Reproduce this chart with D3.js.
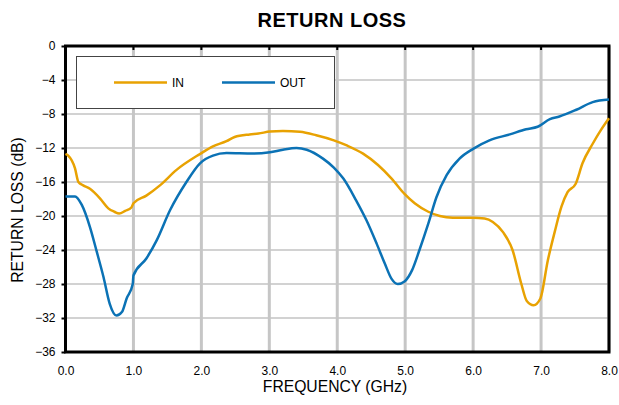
<!DOCTYPE html>
<html>
<head>
<meta charset="utf-8">
<script src="https://cdn.jsdelivr.net/npm/d3@7"></script>
<style>
  body { margin: 0; background: #fff; }
  text { font-family: "Liberation Sans", Arial, sans-serif; }
</style>
</head>
<body>
<div id="chart"></div>
<script>
// frequency (GHz) / return loss (dB)
const inFreq = [0.0, 0.04, 0.14, 0.19, 0.26, 0.36, 0.51, 0.63, 0.72, 0.79, 0.88, 0.97, 1.0, 1.19, 1.39, 1.63, 1.98, 2.17, 2.37, 2.49, 2.71, 2.84, 3.01, 3.2, 3.45, 3.69, 3.95, 4.14, 4.38, 4.6, 4.8, 4.99, 5.14, 5.34, 5.51, 5.7, 6.0, 6.17, 6.29, 6.44, 6.58, 6.71, 6.79, 6.89, 6.99, 7.1, 7.2, 7.3, 7.39, 7.51, 7.61, 7.76, 7.88, 8.0];
const inLoss = [-12.7, -12.9, -14.4, -16.0, -16.4, -16.8, -17.95, -19.1, -19.5, -19.7, -19.4, -19.0, -18.5, -17.6, -16.4, -14.6, -12.7, -11.8, -11.2, -10.7, -10.4, -10.3, -10.07, -10.0, -10.1, -10.5, -11.1, -11.7, -12.66, -14.0, -15.6, -17.4, -18.5, -19.5, -20.0, -20.2, -20.2, -20.3, -20.7, -21.9, -24.0, -28.0, -30.0, -30.5, -29.7, -25.2, -21.9, -18.9, -17.2, -16.2, -13.8, -11.5, -9.9, -8.5];

const outFreq = [0.0, 0.04, 0.14, 0.24, 0.36, 0.46, 0.56, 0.65, 0.75, 0.83, 0.9, 0.99, 1.0, 1.19, 1.34, 1.54, 1.78, 1.98, 2.17, 2.37, 2.76, 3.01, 3.2, 3.4, 3.55, 3.79, 3.95, 4.09, 4.28, 4.43, 4.58, 4.7, 4.8, 4.89, 4.99, 5.1, 5.21, 5.34, 5.46, 5.61, 5.8, 6.0, 6.24, 6.54, 6.78, 6.95, 7.13, 7.27, 7.52, 7.76, 8.0];
const outLoss = [-17.7, -17.7, -17.7, -18.7, -21.3, -24.2, -27.2, -30.3, -31.7, -31.3, -29.7, -28.0, -27.0, -25.0, -22.9, -19.3, -16.0, -13.8, -12.9, -12.6, -12.66, -12.5, -12.2, -12.0, -12.2, -13.25, -14.3, -15.6, -18.2, -20.5, -23.25, -25.6, -27.4, -28.0, -27.7, -26.4, -24.0, -20.9, -17.8, -15.2, -13.25, -12.1, -11.1, -10.4, -9.8, -9.5, -8.6, -8.3, -7.5, -6.6, -6.3];

const xTicks = [0, 1, 2, 3, 4, 5, 6, 7, 8];
const yTicks = [0, -4, -8, -12, -16, -20, -24, -28, -32, -36];

const series = [
  { name: "IN", color: "#E8A202", x: inFreq, y: inLoss },
  { name: "OUT", color: "#0B72B5", x: outFreq, y: outLoss }
];

const W = 619, H = 405;
const margin = { top: 46, right: 10, bottom: 53, left: 65.5 };
const width = W - margin.left - margin.right;
const height = H - margin.top - margin.bottom;

const svg = d3.select("#chart").append("svg")
  .attr("width", W)
  .attr("height", H);

const g = svg.append("g")
  .attr("transform", `translate(${margin.left},${margin.top})`);

const x = d3.scaleLinear().domain([0, 8]).range([0, width]);
const y = d3.scaleLinear().domain([-36, 0]).range([height, 0]);

// grid
g.append("g")
  .selectAll("line")
  .data(yTicks)
  .join("line")
  .attr("x1", 0).attr("x2", width)
  .attr("y1", d => y(d)).attr("y2", d => y(d))
  .attr("stroke", "#d2d2d2")
  .attr("stroke-width", 2);

g.append("g")
  .selectAll("line")
  .data(xTicks)
  .join("line")
  .attr("x1", d => x(d)).attr("x2", d => x(d))
  .attr("y1", 0).attr("y2", height)
  .attr("stroke", "#c6c6c6")
  .attr("stroke-width", 3);

// axes
const yAxis = g.append("g")
  .call(d3.axisLeft(y).tickValues(yTicks).tickFormat(d3.format("d")).tickSize(4).tickPadding(6));
yAxis.select(".domain").remove();
yAxis.selectAll("line").attr("stroke", "#000").attr("stroke-width", 2);
yAxis.selectAll("text").style("font-size", "12px").attr("fill", "#000");

const xAxis = g.append("g")
  .attr("transform", `translate(0,${height})`)
  .call(d3.axisBottom(x).tickValues(xTicks).tickFormat(d3.format(".1f")).tickSize(0).tickPadding(14));
xAxis.select(".domain").remove();
xAxis.selectAll("text").style("font-size", "12px").attr("fill", "#000");

// top ticks
g.append("g")
  .selectAll("line")
  .data(xTicks)
  .join("line")
  .attr("x1", d => x(d)).attr("x2", d => x(d))
  .attr("y1", 0).attr("y2", 4)
  .attr("stroke", "#000")
  .attr("stroke-width", 2);

// frame
g.append("rect")
  .attr("width", width)
  .attr("height", height)
  .attr("fill", "none")
  .attr("stroke", "#000")
  .attr("stroke-width", 3);

// lines
const line = d3.line()
  .x(d => x(d[0]))
  .y(d => y(d[1]))
  .curve(d3.curveMonotoneX);

series.forEach(s => {
  g.append("path")
    .datum(d3.zip(s.x, s.y))
    .attr("fill", "none")
    .attr("stroke", s.color)
    .attr("stroke-width", 2.5)
    .attr("stroke-linejoin", "round")
    .attr("d", line);
});

// legend
const legend = svg.append("g").attr("transform", "translate(76.5,56.5)");
legend.append("rect")
  .attr("width", 258)
  .attr("height", 52)
  .attr("fill", "#fff")
  .attr("stroke", "#444")
  .attr("stroke-width", 1);

series.forEach((s, i) => {
  const lx = 37.5 + i * 108;
  legend.append("line")
    .attr("x1", lx).attr("x2", lx + 53)
    .attr("y1", 26).attr("y2", 26)
    .attr("stroke", s.color)
    .attr("stroke-width", 2.5);
  legend.append("text")
    .attr("x", lx + 58)
    .attr("y", 30.5)
    .style("font-size", "12px")
    .text(s.name);
});

// titles
svg.append("text")
  .attr("x", 332)
  .attr("y", 27)
  .attr("text-anchor", "middle")
  .style("font-size", "20px")
  .style("font-weight", "bold")
  .style("letter-spacing", "0.5px")
  .text("RETURN LOSS");

svg.append("text")
  .attr("x", 335)
  .attr("y", 392)
  .attr("text-anchor", "middle")
  .style("font-size", "15.7px")
  .text("FREQUENCY (GHz)");

svg.append("text")
  .attr("transform", "rotate(-90)")
  .attr("x", -210)
  .attr("y", 23)
  .attr("text-anchor", "middle")
  .style("font-size", "15.7px")
  .text("RETURN LOSS (dB)");
</script>
</body>
</html>
